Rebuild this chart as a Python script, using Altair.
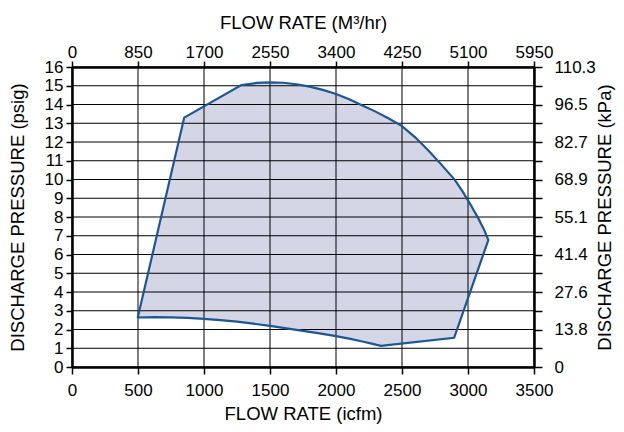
import altair as alt
import pandas as pd

# ---- data ----
cfm_ticks = [0, 500, 1000, 1500, 2000, 2500, 3000, 3500]
psig_ticks = list(range(0, 17))
m3_labels = ["0", "850", "1700", "2550", "3400", "4250", "5100", "5950"]
kpa_labels = ["0", "13.8", "27.6", "41.4", "55.1", "68.9", "82.7", "96.5", "110.3"]

# operating envelope, traced clockwise from the lower-left corner
env_cfm = [497, 850, 1283, 1400, 1500, 1600, 1700, 1800, 1900, 2000, 2100, 2200,
           2300, 2400, 2500, 2600, 2700, 2800, 2900, 2960, 3020, 3080, 3120, 3154,
           2895, 2340, 2270, 2200, 2100, 2000, 1875, 1750, 1625, 1500, 1375, 1250,
           1125, 1000, 875, 750, 625, 500, 497]
env_psig = [2.6, 13.3, 15.04, 15.15, 15.18, 15.16, 15.08, 14.95, 14.78, 14.56, 14.28, 13.95,
            13.62, 13.25, 12.85, 12.25, 11.55, 10.78, 9.98, 9.35, 8.65, 7.9, 7.35, 6.77,
            1.56, 1.13, 1.25, 1.36, 1.51, 1.65, 1.79, 1.93, 2.06, 2.19, 2.31, 2.42,
            2.5, 2.57, 2.62, 2.65, 2.66, 2.64, 2.6]

env = pd.DataFrame({"cfm": env_cfm, "psig": env_psig, "order": list(range(len(env_cfm)))})
vgrid = pd.DataFrame({"cfm": cfm_ticks})
hgrid = pd.DataFrame({"psig": psig_ticks})

FONT = "Liberation Sans"
FILL = "#d4d6e6"
STROKE = "#1c5694"

xs = alt.Scale(domain=[0, 3500], nice=False, zero=False)
ys = alt.Scale(domain=[0, 16], nice=False, zero=False)

common = dict(
    labelFont=FONT, labelFontSize=17, labelColor="#000", labelFlush=False,
    titleFont=FONT, titleFontSize=18.5, titleFontWeight="normal", titleColor="#000",
    domainColor="#000", domainWidth=2.5, tickColor="#000", tickWidth=1.5, grid=False,
)

ax_bottom = alt.Axis(orient="bottom", values=cfm_ticks, title="FLOW RATE (icfm)", format="d",
                     tickSize=7, labelPadding=8, titlePadding=6, **common)
ax_left = alt.Axis(orient="left", values=psig_ticks, title="DISCHARGE PRESSURE (psig)", format="d",
                   tickSize=6, labelPadding=3, titlePadding=17, **common)
m3_js = "[" + ",".join("'%s'" % s for s in m3_labels) + "]"
kpa_js = "[" + ",".join("'%s'" % s for s in kpa_labels) + "]"
ax_top = alt.Axis(orient="top", values=cfm_ticks, title="FLOW RATE (M³/hr)",
                  labelExpr=m3_js + "[round(datum.value / 500)]",
                  tickSize=6, labelPadding=0, titlePadding=11, **common)
ax_right = alt.Axis(orient="right", values=psig_ticks, title="DISCHARGE PRESSURE (kPa)",
                    labelExpr="datum.value % 2 == 0 ? " + kpa_js + "[round(datum.value / 2)] : ''",
                    tickSize=8, labelPadding=12, titlePadding=19, titleAngle=270, **common)

fill = alt.Chart(env).mark_line(fill=FILL, strokeOpacity=0).encode(
    x=alt.X("cfm:Q", scale=xs, axis=ax_bottom),
    y=alt.Y("psig:Q", scale=ys, axis=ax_left),
    order="order:Q",
)

vlines = alt.Chart(vgrid).mark_rule(color="#000", strokeWidth=1).encode(
    x=alt.X("cfm:Q", scale=xs, axis=None),
)
hlines = alt.Chart(hgrid).mark_rule(color="#000", strokeWidth=1).encode(
    y=alt.Y("psig:Q", scale=ys, axis=None),
)

outline = alt.Chart(env).mark_line(stroke=STROKE, strokeWidth=2.2, strokeJoin="miter").encode(
    x=alt.X("cfm:Q", scale=xs, axis=ax_top),
    y=alt.Y("psig:Q", scale=ys, axis=ax_right),
    order="order:Q",
)

chart = alt.layer(fill, vlines, hlines, outline).resolve_scale(
    x="independent", y="independent"
).resolve_axis(
    x="independent", y="independent"
).properties(
    width=462, height=300,
    autosize=alt.AutoSizeParams(type="none"),
    padding={"left": 64, "top": 59, "right": 82, "bottom": 57},
    background="white",
).configure_view(strokeOpacity=0)

chart.save("out.html", embed_options={"renderer": "svg", "actions": False})
